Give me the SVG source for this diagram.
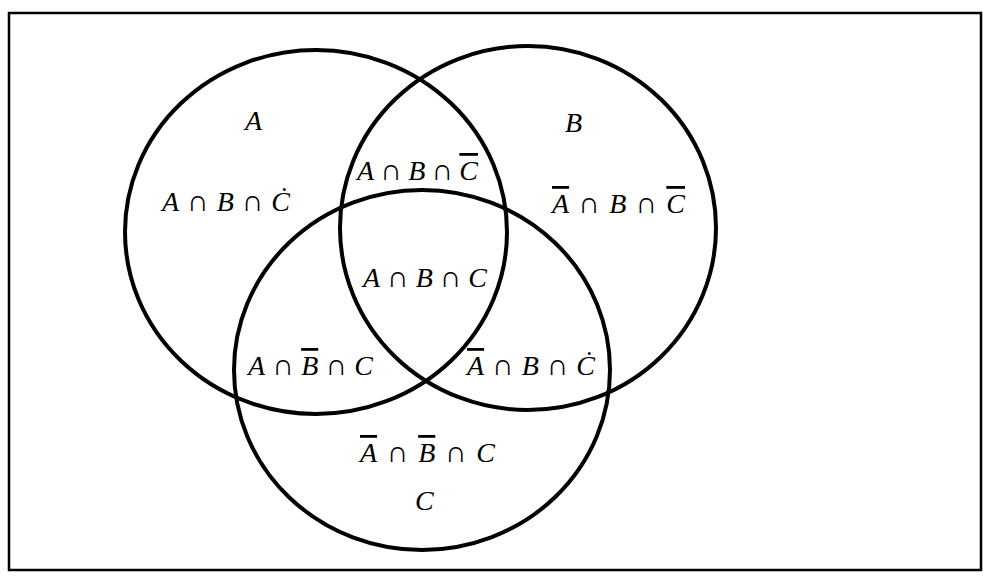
<svg xmlns="http://www.w3.org/2000/svg" width="983" height="578" viewBox="0 0 983 578">
<style>
.frame{fill:none;stroke:#000;stroke-width:2.5}
.set{fill:none;stroke:#000;stroke-width:4}
.lbl{font-family:"Liberation Serif","DejaVu Serif",serif;font-style:italic;font-size:28px;fill:#000}
.cap{font-size:30px}
.ov{text-decoration:overline}
</style>
<rect width="983" height="578" fill="#fff"/>
<rect class="frame" x="9" y="13" width="972" height="557"/>
<g id="setA">
<ellipse class="set" cx="316" cy="232" rx="191" ry="182"/>
<text class="lbl" x="245" y="130">A</text>
</g>
<g id="setB">
<ellipse class="set" cx="528" cy="228" rx="188" ry="182"/>
<text class="lbl" x="565" y="132">B</text>
</g>
<g id="setC">
<ellipse class="set" cx="422" cy="370" rx="188" ry="180"/>
<text class="lbl" x="415" y="510">C</text>
</g>
<g id="regions">
<text class="lbl" x="162" y="211" textLength="128" lengthAdjust="spacing">A<tspan class="cap">∩</tspan>B<tspan class="cap">∩</tspan>Ċ</text>
<text class="lbl" x="357" y="180" textLength="121" lengthAdjust="spacing">A<tspan class="cap">∩</tspan>B<tspan class="cap">∩</tspan><tspan class="ov">C</tspan></text>
<text class="lbl" x="552" y="213" textLength="133" lengthAdjust="spacing"><tspan class="ov">A</tspan><tspan class="cap">∩</tspan>B<tspan class="cap">∩</tspan><tspan class="ov">C</tspan></text>
<text class="lbl" x="363" y="287" textLength="124" lengthAdjust="spacing">A<tspan class="cap">∩</tspan>B<tspan class="cap">∩</tspan>C</text>
<text class="lbl" x="248" y="375" textLength="125" lengthAdjust="spacing">A<tspan class="cap">∩</tspan><tspan class="ov">B</tspan><tspan class="cap">∩</tspan>C</text>
<text class="lbl" x="467" y="375" textLength="128" lengthAdjust="spacing"><tspan class="ov">A</tspan><tspan class="cap">∩</tspan>B<tspan class="cap">∩</tspan>Ċ</text>
<text class="lbl" x="360" y="462" textLength="135" lengthAdjust="spacing"><tspan class="ov">A</tspan><tspan class="cap">∩</tspan><tspan class="ov">B</tspan><tspan class="cap">∩</tspan>C</text>
</g>
</svg>
